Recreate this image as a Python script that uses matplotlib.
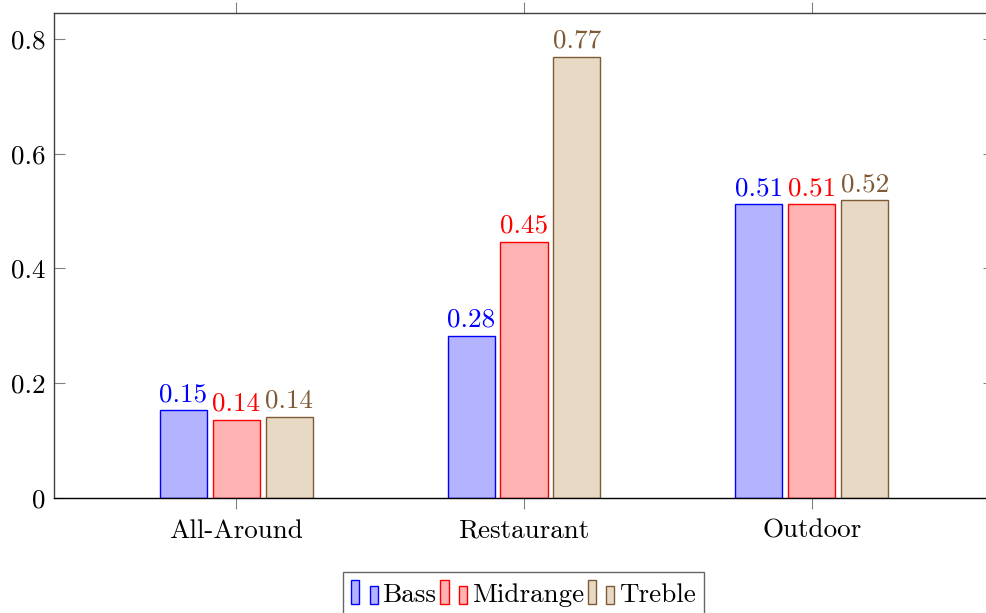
import matplotlib
matplotlib.use("Agg")
import matplotlib.pyplot as plt
from matplotlib.patches import Rectangle
from matplotlib.legend_handler import HandlerBase
import numpy as np

plt.rcParams["font.family"] = ["cmr10", "DejaVu Serif"]
plt.rcParams["axes.formatter.use_mathtext"] = True
plt.rcParams["mathtext.fontset"] = "cm"

categories = ["All-Around", "Restaurant", "Outdoor"]
series_names = ["Bass", "Midrange", "Treble"]
bass = [0.153, 0.283, 0.512]
midrange = [0.136, 0.447, 0.512]
treble = [0.141, 0.769, 0.519]
y_ticks = [0, 0.2, 0.4, 0.6, 0.8]
y_tick_labels = ["0", "0.2", "0.4", "0.6", "0.8"]

fills = [(0.7, 0.7, 1.0), (1.0, 0.7, 0.7), (0.91, 0.85, 0.77)]
edges = ["#0000ff", "#ff0000", "#7f5a36"]

FS = 19.5

fig = plt.figure(figsize=(9.87, 6.13), dpi=100)
W, H = 987, 613
left, right, top, bottom = 54, 994, 13, 498
ax = fig.add_axes([left / W, 1 - bottom / H, (right - left) / W, (bottom - top) / H])

x = np.arange(len(categories))
bar_w = 0.1635
step = 0.184
for i, (vals, name) in enumerate(zip([bass, midrange, treble], series_names)):
    pos = x + (i - 1) * step
    ax.bar(pos, vals, width=bar_w, color=fills[i], edgecolor=edges[i],
           linewidth=1.0, label=name, zorder=2)
    for px, v in zip(pos, vals):
        ax.annotate(f"{v:.2f}", (px, v), xytext=(0, 3), textcoords="offset points",
                    ha="center", va="bottom", color=edges[i], fontsize=FS)

ax.set_xlim(-0.633, 2.633)
ax.set_ylim(0, 0.8453)
ax.set_xticks(x)
ax.set_xticklabels(categories, fontsize=FS)
ax.set_yticks(y_ticks)
ax.set_yticklabels(y_tick_labels, fontsize=FS)

ax.tick_params(axis="x", direction="out", length=8, width=0.8, color="#808080",
               top=True, bottom=True, pad=7)
ax.tick_params(axis="y", direction="in", length=8, width=0.8, color="#808080",
               left=True, right=True, pad=6)
for side in ["left", "top", "right"]:
    ax.spines[side].set_color("#404040")
    ax.spines[side].set_linewidth(1.0)
ax.spines["bottom"].set_color("black")
ax.spines["bottom"].set_linewidth(1.0)
ax.spines["bottom"].set_zorder(3)


class TwoBarHandler(HandlerBase):
    def create_artists(self, legend, orig_handle, xdescent, ydescent,
                       width, height, fontsize, trans):
        fc = orig_handle.get_facecolor()
        ec = orig_handle.get_edgecolor()
        x0 = -xdescent
        y0 = -ydescent
        bw = 0.3 * width
        r1 = Rectangle((x0, y0), bw, height, facecolor=fc, edgecolor=ec,
                       linewidth=1.0, transform=trans)
        r2 = Rectangle((x0 + 0.68 * width, y0), bw, 0.77 * height, facecolor=fc,
                       edgecolor=ec, linewidth=1.0, transform=trans)
        return [r1, r2]


handles = [Rectangle((0, 0), 1, 1, facecolor=fills[i], edgecolor=edges[i])
           for i in range(3)]
leg = fig.legend(handles, series_names, loc="upper center",
                 bbox_to_anchor=(523.5 / W, 1 - 572 / H), ncol=3, fontsize=FS,
                 frameon=True, fancybox=False, edgecolor="#404040",
                 handler_map={Rectangle: TwoBarHandler()},
                 handlelength=1.0, handleheight=1.0, handletextpad=0.15,
                 columnspacing=0.15, borderpad=0.3, borderaxespad=0)
leg.get_frame().set_linewidth(1.0)

fig.savefig("out.png", dpi=100)
